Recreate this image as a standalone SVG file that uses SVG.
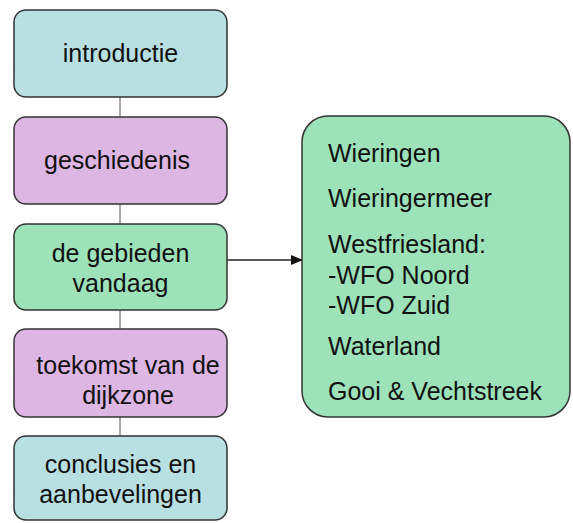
<svg xmlns="http://www.w3.org/2000/svg" width="573" height="523" viewBox="0 0 573 523">
<defs>
<marker id="arr" markerWidth="12" markerHeight="10" refX="11" refY="5" orient="auto" markerUnits="userSpaceOnUse">
<path d="M0,0 L12,5 L0,10 Z" fill="#111"/>
</marker>
<style>
.box{stroke:#333;stroke-width:1.5}
.cyan{fill:#b8dfe2}
.purple{fill:#ddb6e3}
.green{fill:#9de2b8}
text{font-family:"Liberation Sans",Arial,sans-serif;font-size:25px;fill:#111}
.c{text-anchor:middle}
.link{stroke:#555;stroke-width:1;fill:none}
</style>
</defs>
<rect width="573" height="523" fill="#fff"/>
<g id="connectors">
<line class="link" x1="120" y1="97" x2="120" y2="117"/>
<line class="link" x1="120" y1="204" x2="120" y2="224"/>
<line class="link" x1="120" y1="310" x2="120" y2="329"/>
<line class="link" x1="120" y1="417" x2="120" y2="436"/>
<line x1="227" y1="260" x2="302" y2="260" stroke="#222" stroke-width="1.5" marker-end="url(#arr)"/>
</g>
<g id="introductie">
<rect class="box cyan" x="14" y="10" width="213" height="87" rx="12"/>
<text class="c" x="120.5" y="62">introductie</text>
</g>
<g id="geschiedenis">
<rect class="box purple" x="14" y="117" width="213" height="87" rx="12"/>
<text class="c" x="117" y="169">geschiedenis</text>
</g>
<g id="gebieden">
<rect class="box green" x="14" y="224" width="213" height="86" rx="12"/>
<text class="c" x="120.5" y="262">de gebieden</text>
<text class="c" x="120.5" y="292">vandaag</text>
</g>
<g id="toekomst">
<rect class="box purple" x="14" y="329" width="213" height="88" rx="12"/>
<text class="c" x="128" y="374">toekomst van de</text>
<text class="c" x="128" y="404">dijkzone</text>
</g>
<g id="conclusies">
<rect class="box cyan" x="14" y="436" width="213" height="84" rx="12"/>
<text class="c" x="120.5" y="473">conclusies en</text>
<text class="c" x="120.5" y="503">aanbevelingen</text>
</g>
<g id="gebieden-lijst">
<rect class="box green" x="302" y="116" width="268" height="301" rx="26"/>
<text x="328" y="162">Wieringen</text>
<text x="328" y="207">Wieringermeer</text>
<text x="328" y="253">Westfriesland:</text>
<text x="328" y="284">-WFO Noord</text>
<text x="328" y="314">-WFO Zuid</text>
<text x="328" y="355">Waterland</text>
<text x="328" y="400">Gooi &amp; Vechtstreek</text>
</g>
</svg>
